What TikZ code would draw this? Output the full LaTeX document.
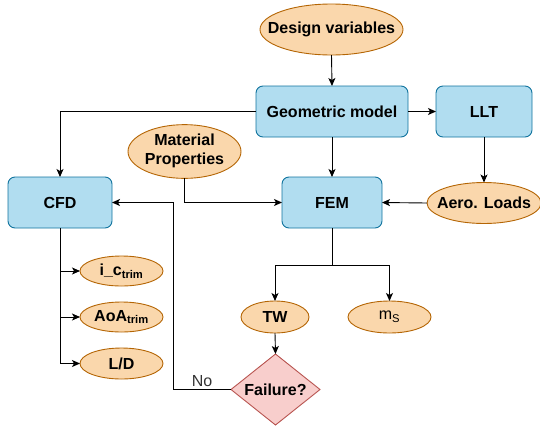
\documentclass[tikz,border=0pt]{standalone}
\usepackage{fontspec}
\setmainfont{Liberation Sans}
\usetikzlibrary{shapes.geometric,arrows.meta}
\definecolor{boxfill}{HTML}{B1DDF0}
\definecolor{boxline}{HTML}{10739E}
\definecolor{ellfill}{HTML}{FAD7AC}
\definecolor{ellline}{HTML}{B46504}
\definecolor{diafill}{HTML}{F8CECC}
\definecolor{dialine}{HTML}{B85450}
\definecolor{lbl}{HTML}{333333}
\newcommand{\zw}[1]{\makebox[0pt]{#1}}
\tikzset{
  every node/.style={font=\fontsize{16}{19}\selectfont\bfseries, inner sep=0pt, outer sep=0pt},
  procbox/.style={rectangle, rounded corners=7pt, draw=boxline, fill=boxfill, line width=0.9pt},
  dataell/.style={ellipse, draw=ellline, fill=ellfill, line width=0.9pt},
  decide/.style={diamond, draw=dialine, fill=diafill, line width=0.9pt},
  arr/.style={draw=black, line width=0.9pt, -{Stealth[length=8pt,width=7pt,inset=2pt]}},
  ln/.style={draw=black, line width=0.9pt}
}
\begin{document}
\begin{tikzpicture}[x=1pt,y=-1pt]
\useasboundingbox (0,0) rectangle (540,426);
% nodes
\node[dataell, minimum width=143pt, minimum height=51pt] (dv) at (331.5,29.5) {\zw{Design variables}};
\node[procbox, minimum width=152pt, minimum height=51pt] (geo) at (332,111.5) {Geometric model};
\node[procbox, minimum width=96pt, minimum height=51pt] (llt) at (484,111.5) {LLT};
\node[procbox, minimum width=104pt, minimum height=51pt] (cfd) at (60,202.5) {CFD};
\node[dataell, minimum width=113pt, minimum height=51pt] (mat) at (184.5,151.5) {\zw{\begin{tabular}{@{}c@{}}Material\\Properties\end{tabular}}};
\node[procbox, minimum width=100pt, minimum height=51pt] (fem) at (332,202.5) {FEM};
\node[dataell, minimum width=114pt, minimum height=41pt] (aero) at (484,203) {\zw{Aero. Loads}};
\node[dataell, minimum width=68pt, minimum height=32pt] (tw) at (275,317) {\zw{TW}};
\node[dataell, minimum width=83pt, minimum height=32pt] (ms) at (389.5,317) {\zw{\mdseries m\textsubscript{S}}};
\node[decide, minimum width=89pt, minimum height=71pt] (fail) at (275.5,389.5) {\zw{Failure?}};
\node[dataell, minimum width=83pt, minimum height=30pt] (ic) at (121.5,271) {\zw{i\_c\textsubscript{trim}}};
\node[dataell, minimum width=83pt, minimum height=30pt] (aoa) at (121.5,317) {\zw{AoA\textsubscript{trim}}};
\node[dataell, minimum width=83pt, minimum height=31pt] (ld) at (121.5,363.5) {\zw{L/D}};
% helper coordinates
\coordinate (split) at (332,265);
\coordinate (fb) at (173,389.5);
% connectors
\draw[arr] (dv.south) -- (geo.north);
\draw[arr] (geo.east) -- (llt.west);
\draw[arr] (geo.west) -| (cfd.north);
\draw[arr] (geo.south) -- (fem.north);
\draw[arr] (llt.south) -- (aero.north);
\draw[arr] (aero.west) -- (fem.east);
\draw[arr] (mat.south) |- (fem.west);
\draw[ln] (fem.south) -- (split);
\draw[arr] (split) -| (tw.north);
\draw[arr] (split) -| (ms.north);
\draw[arr] (tw.south) -- (fail.north);
\draw[arr] (fail.west) -- node[above=3pt, font=\fontsize{16}{19}\selectfont\mdseries, text=lbl] {No} (fb) |- (cfd.east);
\draw[arr] (cfd.south) |- (ic.west);
\draw[arr] (cfd.south) |- (aoa.west);
\draw[arr] (cfd.south) |- (ld.west);
\end{tikzpicture}
\end{document}
